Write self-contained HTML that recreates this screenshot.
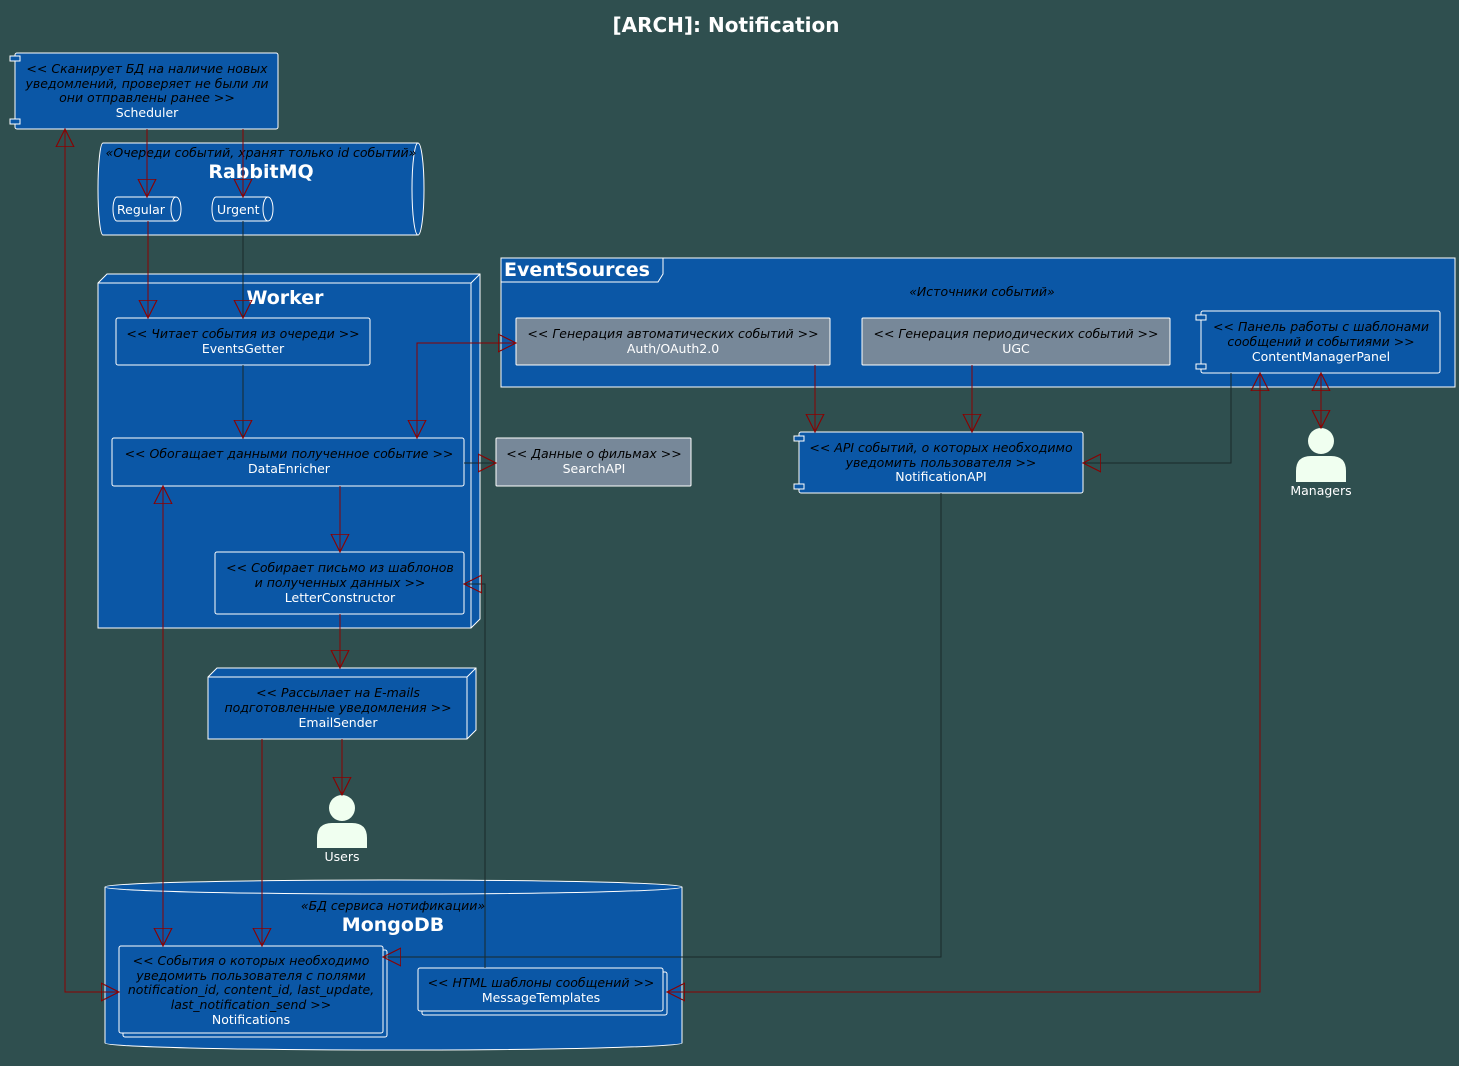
<!DOCTYPE html>
<html><head><meta charset="utf-8"><style>
html,body{margin:0;padding:0;background:#2F4F4F;}
svg{display:block;font-family:"DejaVu Sans","Liberation Sans",sans-serif;}
.i{font-style:italic;font-size:12.5px;fill:#000;}
.w{font-size:12.5px;fill:#fff;}
.b{font-weight:bold;font-size:19px;fill:#fff;}
.box{fill:#0B57A6;stroke:#fff;stroke-width:1;}
.gray{fill:#778899;stroke:#fff;stroke-width:1;}
.r{stroke:#8B0000;fill:none;stroke-width:1;}
.d{stroke:#1a2a2a;fill:none;stroke-width:1;}
</style></head><body>
<svg width="1459" height="1066" viewBox="0 0 1459 1066" xmlns="http://www.w3.org/2000/svg">
<defs>
<marker id="a" markerUnits="userSpaceOnUse" markerWidth="20" markerHeight="20" refX="16" refY="8" orient="auto-start-reverse" viewBox="0 0 18 16">
<path d="M0,0 L16,8 L0,16 Z" fill="none" stroke="#8B0000" stroke-width="1"/>
</marker>
</defs>
<rect width="1459" height="1066" fill="#2F4F4F"/>
<text x="726" y="32" text-anchor="middle" class="b" style="font-size:20px">[ARCH]: Notification</text>

<!-- Scheduler -->
<rect x="15" y="53" width="263" height="76" rx="2" class="box"/>
<rect x="10" y="56" width="10" height="5" class="box"/>
<rect x="10" y="119" width="10" height="5" class="box"/>
<g text-anchor="middle">
<text x="147" y="73" class="i">&lt;&lt; Сканирует БД на наличие новых</text>
<text x="147" y="88" class="i">уведомлений, проверяет не были ли</text>
<text x="147" y="102" class="i">они отправлены ранее &gt;&gt;</text>
<text x="147" y="117" class="w">Scheduler</text>
</g>

<!-- RabbitMQ -->
<path d="M103,143 L418,143 A6,46 0 0 1 418,235 L103,235 A5,46 0 0 1 103,143 Z" class="box"/>
<path d="M418,143 A6,46 0 0 0 418,235" fill="none" stroke="#fff"/>
<text x="261" y="157" text-anchor="middle" class="i">«Очереди событий, хранят только id событий»</text>
<text x="261" y="178" text-anchor="middle" class="b">RabbitMQ</text>
<path d="M117,197 L176,197 A5,12 0 0 1 176,221 L117,221 A4,12 0 0 1 117,197 Z" class="box"/>
<path d="M176,197 A5,12 0 0 0 176,221" fill="none" stroke="#fff"/>
<text x="117" y="214" class="w">Regular</text>
<path d="M216,197 L268,197 A5,12 0 0 1 268,221 L216,221 A4,12 0 0 1 216,197 Z" class="box"/>
<path d="M268,197 A5,12 0 0 0 268,221" fill="none" stroke="#fff"/>
<text x="217" y="214" class="w">Urgent</text>

<!-- Worker -->
<polygon points="98,283 107,274 480,274 480,619 471,628 98,628" class="box"/>
<polyline points="98,283 471,283 471,628" fill="none" stroke="#fff"/>
<line x1="471" y1="283" x2="480" y2="274" stroke="#fff"/>
<text x="285" y="304" text-anchor="middle" class="b">Worker</text>
<rect x="116" y="318" width="254" height="47" rx="2" class="box"/>
<text x="243" y="338" text-anchor="middle" class="i">&lt;&lt; Читает события из очереди &gt;&gt;</text>
<text x="243" y="353" text-anchor="middle" class="w">EventsGetter</text>
<rect x="112" y="438" width="352" height="48" rx="2" class="box"/>
<text x="289" y="458" text-anchor="middle" class="i">&lt;&lt; Обогащает данными полученное событие &gt;&gt;</text>
<text x="289" y="473" text-anchor="middle" class="w">DataEnricher</text>
<rect x="215" y="552" width="249" height="62" rx="2" class="box"/>
<text x="340" y="572" text-anchor="middle" class="i">&lt;&lt; Собирает письмо из шаблонов</text>
<text x="340" y="587" text-anchor="middle" class="i">и полученных данных &gt;&gt;</text>
<text x="340" y="602" text-anchor="middle" class="w">LetterConstructor</text>

<!-- EmailSender -->
<polygon points="208,677 217,668 476,668 476,730 467,739 208,739" class="box"/>
<polyline points="208,677 467,677 467,739" fill="none" stroke="#fff"/>
<line x1="467" y1="677" x2="476" y2="668" stroke="#fff"/>
<text x="338" y="697" text-anchor="middle" class="i">&lt;&lt; Рассылает на E-mails</text>
<text x="338" y="712" text-anchor="middle" class="i">подготовленные уведомления &gt;&gt;</text>
<text x="338" y="727" text-anchor="middle" class="w">EmailSender</text>

<!-- Users -->
<circle cx="342" cy="808" r="13" fill="#F0FFF0"/>
<path d="M317,848 L317,838 Q317,823 332,823 L352,823 Q367,823 367,838 L367,848 Z" fill="#F0FFF0"/>
<text x="342" y="861" text-anchor="middle" class="w">Users</text>

<!-- MongoDB -->
<path d="M105,887 A288,7 0 0 1 682,887 L682,1043 A288,7 0 0 1 105,1043 Z" class="box"/>
<path d="M105,887 A288,7 0 0 0 682,887" fill="none" stroke="#fff"/>
<text x="393" y="910" text-anchor="middle" class="i">«БД сервиса нотификации»</text>
<text x="393" y="931" text-anchor="middle" class="b">MongoDB</text>
<rect x="123" y="950" width="264" height="87" rx="2" class="box"/>
<rect x="119" y="946" width="264" height="87" rx="2" class="box"/>
<g text-anchor="middle">
<text x="251" y="965" class="i">&lt;&lt; События о которых необходимо</text>
<text x="251" y="980" class="i">уведомить пользователя с полями</text>
<text x="251" y="994" class="i">notification_id, content_id, last_update,</text>
<text x="251" y="1009" class="i">last_notification_send &gt;&gt;</text>
<text x="251" y="1024" class="w">Notifications</text>
</g>
<rect x="422" y="972" width="245" height="43" rx="2" class="box"/>
<rect x="418" y="968" width="245" height="43" rx="2" class="box"/>
<text x="541" y="987" text-anchor="middle" class="i">&lt;&lt; HTML шаблоны сообщений &gt;&gt;</text>
<text x="541" y="1002" text-anchor="middle" class="w">MessageTemplates</text>

<!-- EventSources -->
<rect x="501" y="258" width="954" height="129" class="box"/>
<polyline points="501,282 658,282 663,274 663,258" fill="none" stroke="#fff"/>
<text x="504" y="276" class="b">EventSources</text>
<text x="982" y="296" text-anchor="middle" class="i">«Источники событий»</text>
<rect x="516" y="318" width="314" height="47" rx="1" class="gray"/>
<text x="673" y="338" text-anchor="middle" class="i">&lt;&lt; Генерация автоматических событий &gt;&gt;</text>
<text x="673" y="353" text-anchor="middle" class="w">Auth/OAuth2.0</text>
<rect x="862" y="318" width="308" height="47" rx="1" class="gray"/>
<text x="1016" y="338" text-anchor="middle" class="i">&lt;&lt; Генерация периодических событий &gt;&gt;</text>
<text x="1016" y="353" text-anchor="middle" class="w">UGC</text>
<rect x="1201" y="311" width="239" height="62" rx="2" class="box"/>
<rect x="1196" y="315" width="10" height="5" class="box"/>
<rect x="1196" y="364" width="10" height="5" class="box"/>
<text x="1321" y="331" text-anchor="middle" class="i">&lt;&lt; Панель работы с шаблонами</text>
<text x="1321" y="346" text-anchor="middle" class="i">сообщений и событиями &gt;&gt;</text>
<text x="1321" y="361" text-anchor="middle" class="w">ContentManagerPanel</text>

<!-- SearchAPI -->
<rect x="496" y="438" width="195" height="48" rx="1" class="gray"/>
<text x="594" y="458" text-anchor="middle" class="i">&lt;&lt; Данные о фильмах &gt;&gt;</text>
<text x="594" y="473" text-anchor="middle" class="w">SearchAPI</text>

<!-- NotificationAPI -->
<rect x="799" y="432" width="284" height="61" rx="2" class="box"/>
<rect x="794" y="436" width="10" height="5" class="box"/>
<rect x="794" y="484" width="10" height="5" class="box"/>
<text x="941" y="452" text-anchor="middle" class="i">&lt;&lt; API событий, о которых необходимо</text>
<text x="941" y="467" text-anchor="middle" class="i">уведомить пользователя &gt;&gt;</text>
<text x="941" y="481" text-anchor="middle" class="w">NotificationAPI</text>

<!-- Managers -->
<circle cx="1321" cy="441" r="13" fill="#F0FFF0"/>
<path d="M1296,482 L1296,471 Q1296,456 1311,456 L1331,456 Q1346,456 1346,471 L1346,482 Z" fill="#F0FFF0"/>
<text x="1321" y="495" text-anchor="middle" class="w">Managers</text>

<!-- connectors -->
<path d="M147,129 L147,197" class="r" marker-end="url(#a)"/>
<path d="M243,129 L243,197" class="r" marker-end="url(#a)"/>
<path d="M148,221 L148,318" class="r" marker-end="url(#a)"/>
<path d="M243,221 L243,318" class="d" marker-end="url(#a)"/>
<path d="M243,365 L243,438" class="d" marker-end="url(#a)"/>
<path d="M417,438 L417,343 L516,343" class="r" marker-start="url(#a)" marker-end="url(#a)"/>
<path d="M464,463 L496,463" class="d" marker-end="url(#a)"/>
<path d="M340,486 L340,552" class="r" marker-end="url(#a)"/>
<path d="M340,614 L340,668" class="r" marker-end="url(#a)"/>
<path d="M342,739 L342,795" class="r" marker-end="url(#a)"/>
<path d="M262,739 L262,946" class="r" marker-end="url(#a)"/>
<path d="M163,486 L163,946" class="r" marker-start="url(#a)" marker-end="url(#a)"/>
<path d="M65,129 L65,992 L119,992" class="r" marker-start="url(#a)" marker-end="url(#a)"/>
<path d="M485,968 L485,584 L464,584" class="d" marker-end="url(#a)"/>
<path d="M815,365 L815,432" class="r" marker-end="url(#a)"/>
<path d="M972,365 L972,432" class="r" marker-end="url(#a)"/>
<path d="M1231,373 L1231,463 L1083,463" class="d" marker-end="url(#a)"/>
<path d="M1321,373 L1321,428" class="r" marker-start="url(#a)" marker-end="url(#a)"/>
<path d="M941,493 L941,957 L383,957" class="d" marker-end="url(#a)"/>
<path d="M1260,373 L1260,992 L667,992" class="r" marker-start="url(#a)" marker-end="url(#a)"/>
</svg>
</body></html>
